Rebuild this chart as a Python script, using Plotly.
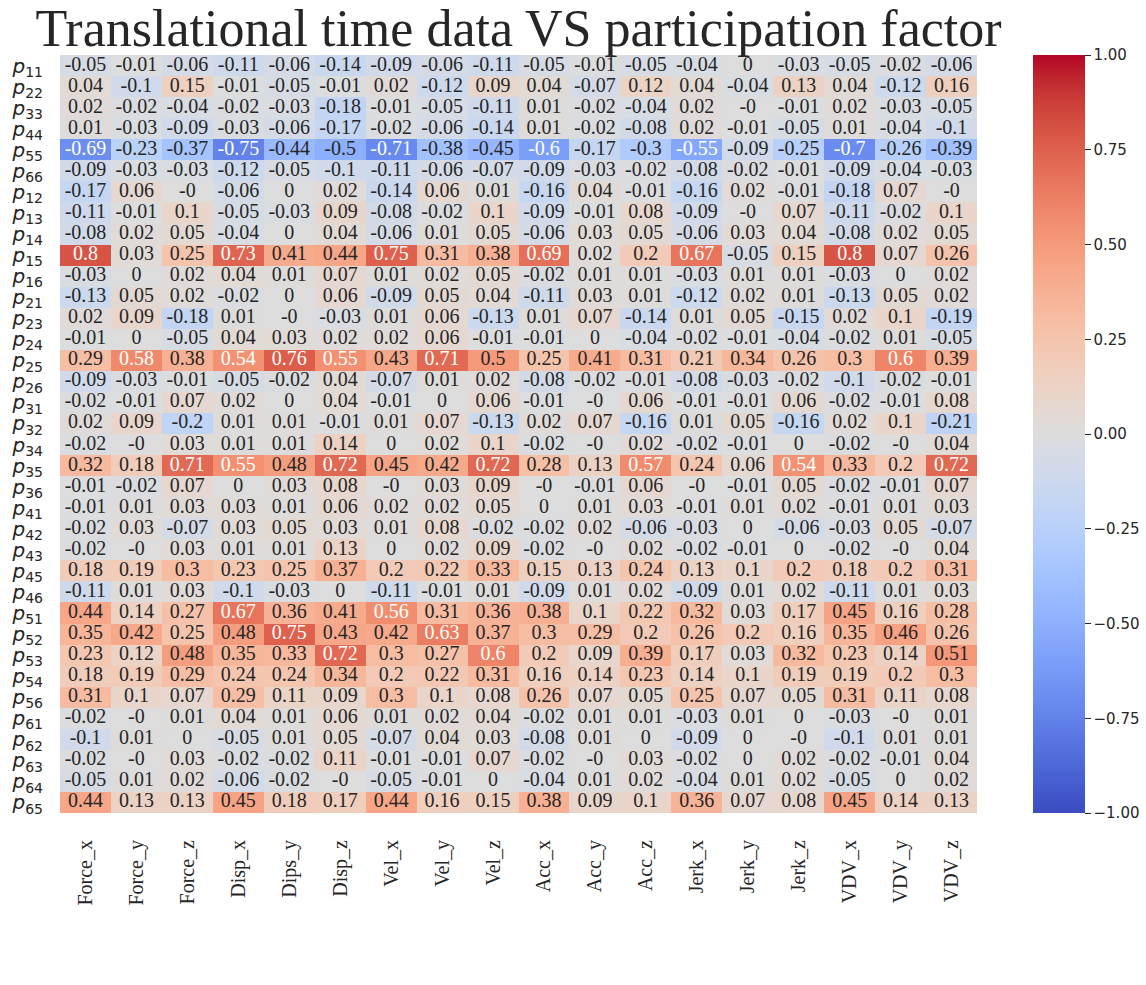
import numpy as np
import plotly.graph_objects as go

# Row labels (participation factors) and column labels (time-domain metrics)
rows = ["11", "22", "33", "44", "55", "66", "12", "13", "14", "15", "16",
        "21", "23", "24", "25", "26", "31", "32", "34", "35", "36", "41",
        "42", "43", "45", "46", "51", "52", "53", "54", "56", "61", "62",
        "63", "64", "65"]
cols = ["Force_x", "Force_y", "Force_z", "Disp_x", "Dips_y", "Disp_z",
        "Vel_x", "Vel_y", "Vel_z", "Acc_x", "Acc_y", "Acc_z",
        "Jerk_x", "Jerk_y", "Jerk_z", "VDV_x", "VDV_y", "VDV_z"]

# Correlation values, one list per row (-0.0 marks small negatives rounded to zero)
p11 = [-0.05, -0.01, -0.06, -0.11, -0.06, -0.14, -0.09, -0.06, -0.11, -0.05, -0.01, -0.05, -0.04, 0, -0.03, -0.05, -0.02, -0.06]
p22 = [0.04, -0.1, 0.15, -0.01, -0.05, -0.01, 0.02, -0.12, 0.09, 0.04, -0.07, 0.12, 0.04, -0.04, 0.13, 0.04, -0.12, 0.16]
p33 = [0.02, -0.02, -0.04, -0.02, -0.03, -0.18, -0.01, -0.05, -0.11, 0.01, -0.02, -0.04, 0.02, -0.0, -0.01, 0.02, -0.03, -0.05]
p44 = [0.01, -0.03, -0.09, -0.03, -0.06, -0.17, -0.02, -0.06, -0.14, 0.01, -0.02, -0.08, 0.02, -0.01, -0.05, 0.01, -0.04, -0.1]
p55 = [-0.69, -0.23, -0.37, -0.75, -0.44, -0.5, -0.71, -0.38, -0.45, -0.6, -0.17, -0.3, -0.55, -0.09, -0.25, -0.7, -0.26, -0.39]
p66 = [-0.09, -0.03, -0.03, -0.12, -0.05, -0.1, -0.11, -0.06, -0.07, -0.09, -0.03, -0.02, -0.08, -0.02, -0.01, -0.09, -0.04, -0.03]
p12 = [-0.17, 0.06, -0.0, -0.06, 0, 0.02, -0.14, 0.06, 0.01, -0.16, 0.04, -0.01, -0.16, 0.02, -0.01, -0.18, 0.07, -0.0]
p13 = [-0.11, -0.01, 0.1, -0.05, -0.03, 0.09, -0.08, -0.02, 0.1, -0.09, -0.01, 0.08, -0.09, -0.0, 0.07, -0.11, -0.02, 0.1]
p14 = [-0.08, 0.02, 0.05, -0.04, 0, 0.04, -0.06, 0.01, 0.05, -0.06, 0.03, 0.05, -0.06, 0.03, 0.04, -0.08, 0.02, 0.05]
p15 = [0.8, 0.03, 0.25, 0.73, 0.41, 0.44, 0.75, 0.31, 0.38, 0.69, 0.02, 0.2, 0.67, -0.05, 0.15, 0.8, 0.07, 0.26]
p16 = [-0.03, 0, 0.02, 0.04, 0.01, 0.07, 0.01, 0.02, 0.05, -0.02, 0.01, 0.01, -0.03, 0.01, 0.01, -0.03, 0, 0.02]
p21 = [-0.13, 0.05, 0.02, -0.02, 0, 0.06, -0.09, 0.05, 0.04, -0.11, 0.03, 0.01, -0.12, 0.02, 0.01, -0.13, 0.05, 0.02]
p23 = [0.02, 0.09, -0.18, 0.01, -0.0, -0.03, 0.01, 0.06, -0.13, 0.01, 0.07, -0.14, 0.01, 0.05, -0.15, 0.02, 0.1, -0.19]
p24 = [-0.01, 0, -0.05, 0.04, 0.03, 0.02, 0.02, 0.06, -0.01, -0.01, 0, -0.04, -0.02, -0.01, -0.04, -0.02, 0.01, -0.05]
p25 = [0.29, 0.58, 0.38, 0.54, 0.76, 0.55, 0.43, 0.71, 0.5, 0.25, 0.41, 0.31, 0.21, 0.34, 0.26, 0.3, 0.6, 0.39]
p26 = [-0.09, -0.03, -0.01, -0.05, -0.02, 0.04, -0.07, 0.01, 0.02, -0.08, -0.02, -0.01, -0.08, -0.03, -0.02, -0.1, -0.02, -0.01]
p31 = [-0.02, -0.01, 0.07, 0.02, 0, 0.04, -0.01, 0, 0.06, -0.01, -0.0, 0.06, -0.01, -0.01, 0.06, -0.02, -0.01, 0.08]
p32 = [0.02, 0.09, -0.2, 0.01, 0.01, -0.01, 0.01, 0.07, -0.13, 0.02, 0.07, -0.16, 0.01, 0.05, -0.16, 0.02, 0.1, -0.21]
p34 = [-0.02, -0.0, 0.03, 0.01, 0.01, 0.14, 0, 0.02, 0.1, -0.02, -0.0, 0.02, -0.02, -0.01, 0, -0.02, -0.0, 0.04]
p35 = [0.32, 0.18, 0.71, 0.55, 0.48, 0.72, 0.45, 0.42, 0.72, 0.28, 0.13, 0.57, 0.24, 0.06, 0.54, 0.33, 0.2, 0.72]
p36 = [-0.01, -0.02, 0.07, 0, 0.03, 0.08, -0.0, 0.03, 0.09, -0.0, -0.01, 0.06, -0.0, -0.01, 0.05, -0.02, -0.01, 0.07]
p41 = [-0.01, 0.01, 0.03, 0.03, 0.01, 0.06, 0.02, 0.02, 0.05, 0, 0.01, 0.03, -0.01, 0.01, 0.02, -0.01, 0.01, 0.03]
p42 = [-0.02, 0.03, -0.07, 0.03, 0.05, 0.03, 0.01, 0.08, -0.02, -0.02, 0.02, -0.06, -0.03, 0, -0.06, -0.03, 0.05, -0.07]
p43 = [-0.02, -0.0, 0.03, 0.01, 0.01, 0.13, 0, 0.02, 0.09, -0.02, -0.0, 0.02, -0.02, -0.01, 0, -0.02, -0.0, 0.04]
p45 = [0.18, 0.19, 0.3, 0.23, 0.25, 0.37, 0.2, 0.22, 0.33, 0.15, 0.13, 0.24, 0.13, 0.1, 0.2, 0.18, 0.2, 0.31]
p46 = [-0.11, 0.01, 0.03, -0.1, -0.03, 0, -0.11, -0.01, 0.01, -0.09, 0.01, 0.02, -0.09, 0.01, 0.02, -0.11, 0.01, 0.03]
p51 = [0.44, 0.14, 0.27, 0.67, 0.36, 0.41, 0.56, 0.31, 0.36, 0.38, 0.1, 0.22, 0.32, 0.03, 0.17, 0.45, 0.16, 0.28]
p52 = [0.35, 0.42, 0.25, 0.48, 0.75, 0.43, 0.42, 0.63, 0.37, 0.3, 0.29, 0.2, 0.26, 0.2, 0.16, 0.35, 0.46, 0.26]
p53 = [0.23, 0.12, 0.48, 0.35, 0.33, 0.72, 0.3, 0.27, 0.6, 0.2, 0.09, 0.39, 0.17, 0.03, 0.32, 0.23, 0.14, 0.51]
p54 = [0.18, 0.19, 0.29, 0.24, 0.24, 0.34, 0.2, 0.22, 0.31, 0.16, 0.14, 0.23, 0.14, 0.1, 0.19, 0.19, 0.2, 0.3]
p56 = [0.31, 0.1, 0.07, 0.29, 0.11, 0.09, 0.3, 0.1, 0.08, 0.26, 0.07, 0.05, 0.25, 0.07, 0.05, 0.31, 0.11, 0.08]
p61 = [-0.02, -0.0, 0.01, 0.04, 0.01, 0.06, 0.01, 0.02, 0.04, -0.02, 0.01, 0.01, -0.03, 0.01, 0, -0.03, -0.0, 0.01]
p62 = [-0.1, 0.01, 0, -0.05, 0.01, 0.05, -0.07, 0.04, 0.03, -0.08, 0.01, 0, -0.09, 0, -0.0, -0.1, 0.01, 0.01]
p63 = [-0.02, -0.0, 0.03, -0.02, -0.02, 0.11, -0.01, -0.01, 0.07, -0.02, -0.0, 0.03, -0.02, 0, 0.02, -0.02, -0.01, 0.04]
p64 = [-0.05, 0.01, 0.02, -0.06, -0.02, -0.0, -0.05, -0.01, 0, -0.04, 0.01, 0.02, -0.04, 0.01, 0.02, -0.05, 0, 0.02]
p65 = [0.44, 0.13, 0.13, 0.45, 0.18, 0.17, 0.44, 0.16, 0.15, 0.38, 0.09, 0.1, 0.36, 0.07, 0.08, 0.45, 0.14, 0.13]

values = np.array([p11, p22, p33, p44, p55, p66, p12, p13, p14, p15, p16,
                   p21, p23, p24, p25, p26, p31, p32, p34, p35, p36, p41,
                   p42, p43, p45, p46, p51, p52, p53, p54, p56, p61, p62,
                   p63, p64, p65], dtype=float)

# Diverging cool-warm palette
cw = [(59, 76, 192), (68, 90, 204), (77, 104, 215), (87, 117, 225), (98, 130, 234),
      (108, 142, 241), (119, 154, 247), (130, 165, 251), (141, 176, 254), (152, 185, 255),
      (163, 194, 255), (174, 201, 253), (184, 208, 249), (194, 213, 244), (204, 217, 238),
      (213, 219, 230), (221, 221, 221), (229, 216, 209), (236, 211, 197), (241, 204, 185),
      (245, 196, 173), (247, 187, 160), (247, 177, 148), (247, 166, 135), (244, 154, 123),
      (241, 141, 111), (236, 127, 99), (229, 112, 88), (222, 96, 77), (213, 80, 66),
      (203, 62, 56), (192, 40, 47), (180, 4, 38)]
stops = np.linspace(0, 1, len(cw))
colorscale = [[float(s), "rgb(%d,%d,%d)" % c] for s, c in zip(stops, cw)]
cw_arr = np.array(cw, dtype=float)


def cell_rgb(v):
    t = (v + 1) / 2
    return [np.interp(t, stops, cw_arr[:, k]) for k in range(3)]


def luminance(rgb):
    ch = []
    for c in rgb:
        c = c / 255.0
        ch.append(c / 12.92 if c <= 0.03928 else ((c + 0.055) / 1.055) ** 2.4)
    return 0.2126 * ch[0] + 0.7152 * ch[1] + 0.0722 * ch[2]


row_labels = ["<i>p</i><sub>%s</sub>" % r for r in rows]

# Cell annotations: text colour flips to white on dark cells
tx, ty, tt, tc = [], [], [], []
for i, lab in enumerate(row_labels):
    for j, c in enumerate(cols):
        v = values[i, j]
        tx.append(c)
        ty.append(lab)
        tt.append(f"{v:g}")
        tc.append("white" if luminance(cell_rgb(v)) < 0.408 else "#262626")

fig = go.Figure()
fig.add_trace(go.Heatmap(
    z=values, x=cols, y=row_labels,
    colorscale=colorscale, zmin=-1, zmax=1,
    xgap=0, ygap=0, hoverinfo="skip",
    colorbar=dict(
        x=1.061, xanchor="left", xpad=0, y=0.5, yanchor="middle", ypad=0,
        len=1.0, lenmode="fraction", thickness=52, outlinewidth=0,
        tickvals=[-1, -0.75, -0.5, -0.25, 0, 0.25, 0.5, 0.75, 1],
        tickformat=".2f", ticks="outside", ticklen=6, tickwidth=1,
        tickcolor="#262626",
        tickfont=dict(family="DejaVu Sans", size=15, color="#262626"),
    ),
))
fig.add_trace(go.Scatter(
    x=tx, y=ty, mode="text", text=tt,
    textfont=dict(family="Liberation Serif", size=20, color=tc),
    hoverinfo="skip", showlegend=False,
))

fig.update_layout(
    width=1146, height=985,
    margin=dict(l=60, r=169, t=55, b=172, autoexpand=False),
    paper_bgcolor="white", plot_bgcolor="white",
    title=dict(
        text="Translational time data VS participation factor",
        font=dict(family="Liberation Serif", size=52, color="#262626"),
        x=(60 + 977) / 2 / 1146, xanchor="center",
        y=1 - 28 / 985, yanchor="middle",
    ),
    showlegend=False,
)
fig.update_xaxes(
    type="category", categoryorder="array", categoryarray=cols,
    tickmode="array", tickvals=cols,
    range=[-0.5, len(cols) - 0.5], autorange=False,
    tickangle=-90, showgrid=False, zeroline=False, showline=False,
    ticks="", ticklabelstandoff=22, automargin=False,
    tickfont=dict(family="Liberation Serif", size=20, color="#262626"),
)
fig.update_yaxes(
    type="category", categoryorder="array", categoryarray=row_labels,
    tickmode="array", tickvals=row_labels,
    range=[len(rows) - 0.5, -0.5], autorange=False,
    showgrid=False, zeroline=False, showline=False,
    ticks="", ticklabelstandoff=16, automargin=False,
    tickfont=dict(family="DejaVu Sans", size=20, color="#262626"),
)

fig.write_html("out.html")
